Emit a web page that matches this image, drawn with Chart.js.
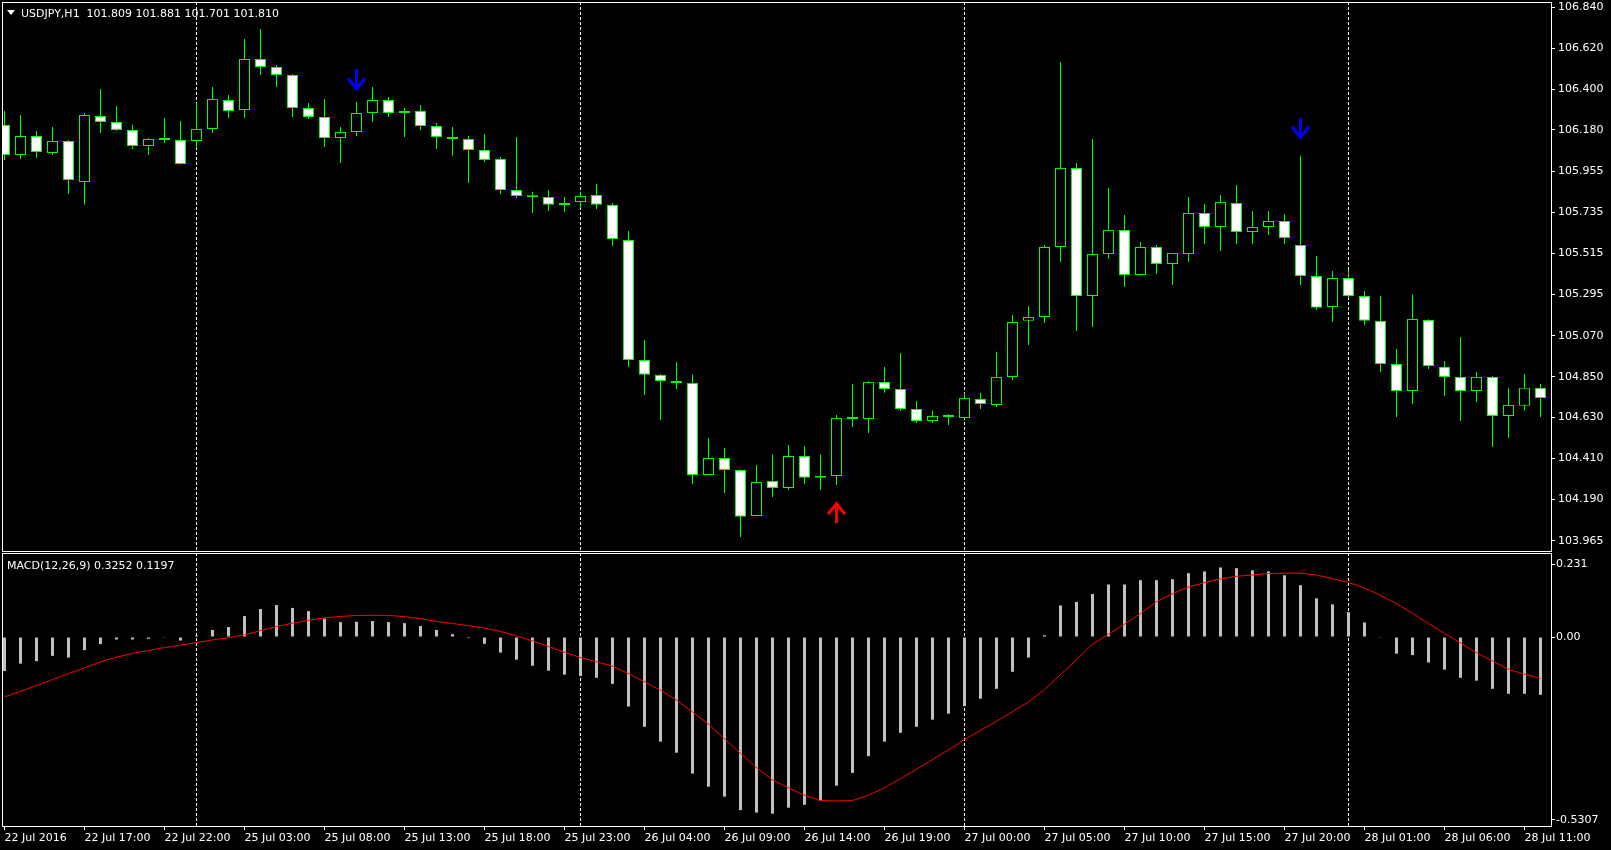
<!DOCTYPE html>
<html>
<head>
<meta charset="utf-8">
<title>USDJPY,H1</title>
<script src="https://cdn.jsdelivr.net/npm/chart.js@4.4.1/dist/chart.umd.min.js"></script>
<style>
  html, body { margin: 0; padding: 0; background: #000; }
  body { width: 1611px; height: 850px; position: relative; overflow: hidden; font-family: "DejaVu Sans", sans-serif; }
  #price-wrap { position: absolute; left: 0; top: 0; width: 1611px; height: 552px; }
  #macd-wrap { position: absolute; left: 0; top: 552px; width: 1611px; height: 298px; }
  .pane-title { position: absolute; color: #fff; font-size: 11px; line-height: 13px; white-space: pre; }
  #price-title { left: 21px; top: 7px; }
  #macd-title { left: 7px; top: 559px; }
  #tri { position: absolute; left: 7px; top: 10px; width: 0; height: 0;
         border-left: 4px solid transparent; border-right: 4px solid transparent; border-top: 5px solid #fff; }
</style>
</head>
<body>
<div id="price-wrap"><canvas id="priceChart" width="1611" height="552"></canvas></div>
<div id="macd-wrap"><canvas id="macdChart" width="1611" height="298"></canvas></div>
<div id="tri"></div>
<div class="pane-title" id="price-title">USDJPY,H1  101.809 101.881 101.701 101.810</div>
<div class="pane-title" id="macd-title">MACD(12,26,9) 0.3252 0.1197</div>

<script>
// H1 bars, 22 Jul 2016 12:00 .. 28 Jul 2016 12:00 (index = bar number)
const opens = [
  106.207, 106.045, 106.147, 106.056, 106.120, 105.899, 106.255, 106.223, 106.180, 106.093,
  106.136, 106.126, 106.120, 106.185, 106.341, 106.287, 106.562, 106.519, 106.476, 106.298,
  106.250, 106.136, 106.169, 106.271, 106.341, 106.282, 106.282, 106.201, 106.142, 106.131,
  106.072, 106.023, 105.856, 105.819, 105.819, 105.776, 105.792, 105.829, 105.776, 105.587,
  104.940, 104.860, 104.827, 104.816, 104.321, 104.412, 104.348, 104.100, 104.288, 104.251,
  104.423, 104.315, 104.315, 104.622, 104.622, 104.822, 104.784, 104.676, 104.612, 104.644,
  104.628, 104.730, 104.698, 104.849, 105.151, 105.172, 105.549, 105.975, 105.285, 105.511,
  105.641, 105.398, 105.549, 105.458, 105.511, 105.732, 105.657, 105.786, 105.630, 105.657,
  105.689, 105.560, 105.393, 105.226, 105.382, 105.285, 105.151, 104.919, 104.773, 105.156,
  104.903, 104.849, 104.773, 104.849, 104.639, 104.693, 104.790
];
const highs = [
  106.282, 106.260, 106.174, 106.196, 106.125, 106.271, 106.400, 106.309, 106.207, 106.136,
  106.244, 106.228, 106.325, 106.411, 106.368, 106.670, 106.724, 106.530, 106.481, 106.325,
  106.347, 106.196, 106.330, 106.411, 106.357, 106.298, 106.314, 106.217, 106.196, 106.147,
  106.158, 106.034, 106.142, 105.846, 105.856, 105.819, 105.846, 105.889, 105.786, 105.635,
  105.048, 104.865, 104.930, 104.860, 104.520, 104.466, 104.352, 104.375, 104.429, 104.482,
  104.477, 104.429, 104.644, 104.811, 104.827, 104.903, 104.978, 104.719, 104.666, 104.649,
  104.763, 104.763, 104.984, 105.183, 105.231, 105.560, 106.546, 106.002, 106.131, 105.867,
  105.722, 105.576, 105.560, 105.517, 105.819, 105.781, 105.829, 105.883, 105.743, 105.743,
  105.727, 106.040, 105.501, 105.420, 105.425, 105.312, 105.285, 105.000, 105.291, 105.160,
  104.935, 105.064, 104.876, 104.854, 104.790, 104.865, 104.811
];
const lows = [
  106.018, 106.023, 106.029, 106.045, 105.835, 105.776, 106.163, 106.174, 106.077, 106.045,
  106.110, 105.994, 106.083, 106.163, 106.244, 106.244, 106.476, 106.411, 106.250, 106.239,
  106.088, 106.002, 106.147, 106.223, 106.250, 106.142, 106.180, 106.077, 106.040, 105.894,
  106.007, 105.835, 105.813, 105.732, 105.743, 105.738, 105.759, 105.754, 105.555, 104.903,
  104.752, 104.617, 104.784, 104.272, 104.318, 104.224, 103.987, 104.097, 104.202, 104.240,
  104.272, 104.240, 104.267, 104.579, 104.547, 104.763, 104.666, 104.601, 104.601, 104.590,
  104.622, 104.676, 104.687, 104.833, 105.021, 105.140, 105.468, 105.097, 105.118, 105.485,
  105.334, 105.395, 105.404, 105.344, 105.468, 105.565, 105.528, 105.565, 105.565, 105.614,
  105.565, 105.344, 105.210, 105.145, 105.274, 105.129, 104.876, 104.633, 104.703, 104.892,
  104.746, 104.612, 104.714, 104.472, 104.520, 104.666, 104.633
];
const closes = [
  106.045, 106.147, 106.061, 106.120, 105.910, 106.260, 106.223, 106.180, 106.093, 106.131,
  106.126, 105.996, 106.185, 106.347, 106.282, 106.562, 106.519, 106.476, 106.298, 106.250,
  106.136, 106.169, 106.271, 106.341, 106.271, 106.271, 106.201, 106.142, 106.131, 106.072,
  106.018, 105.856, 105.824, 105.817, 105.776, 105.775, 105.824, 105.776, 105.592, 104.940,
  104.860, 104.827, 104.816, 104.321, 104.412, 104.348, 104.095, 104.283, 104.251, 104.423,
  104.305, 104.305, 104.628, 104.626, 104.822, 104.784, 104.676, 104.612, 104.639, 104.633,
  104.736, 104.703, 104.849, 105.145, 105.172, 105.549, 105.975, 105.285, 105.511, 105.641,
  105.398, 105.549, 105.458, 105.517, 105.732, 105.657, 105.792, 105.630, 105.657, 105.689,
  105.598, 105.393, 105.221, 105.382, 105.285, 105.151, 104.919, 104.773, 105.161, 104.908,
  104.849, 104.773, 104.849, 104.639, 104.698, 104.790, 104.736
];

// MACD(12,26,9): main (histogram) and signal line
const macdMain = [
  -0.096, -0.075, -0.068, -0.053, -0.058, -0.037, -0.020, -0.007, -0.007, -0.005,
  -0.002, -0.010, 0.004, 0.020, 0.028, 0.059, 0.079, 0.090, 0.082, 0.073,
  0.052, 0.042, 0.043, 0.045, 0.042, 0.039, 0.031, 0.020, 0.008, -0.003,
  -0.019, -0.044, -0.064, -0.081, -0.095, -0.106, -0.110, -0.115, -0.132, -0.196,
  -0.253, -0.295, -0.326, -0.385, -0.422, -0.450, -0.488, -0.495, -0.498, -0.481,
  -0.473, -0.461, -0.419, -0.383, -0.336, -0.295, -0.270, -0.253, -0.233, -0.216,
  -0.195, -0.174, -0.146, -0.098, -0.058, 0.005, 0.089, 0.099, 0.121, 0.148,
  0.148, 0.160, 0.160, 0.163, 0.180, 0.185, 0.196, 0.194, 0.188, 0.185,
  0.174, 0.146, 0.109, 0.092, 0.070, 0.041, -0.002, -0.047, -0.051, -0.072,
  -0.092, -0.115, -0.123, -0.146, -0.160, -0.160, -0.163
];
const macdSignal = [
  -0.169, -0.153, -0.137, -0.120, -0.103, -0.087, -0.070, -0.057, -0.046, -0.038,
  -0.030, -0.023, -0.016, -0.008, -0.002, 0.006, 0.018, 0.029, 0.039, 0.047,
  0.054, 0.058, 0.061, 0.061, 0.061, 0.057, 0.052, 0.044, 0.038, 0.032,
  0.025, 0.016, 0.003, -0.011, -0.027, -0.043, -0.058, -0.070, -0.082, -0.103,
  -0.126, -0.150, -0.178, -0.211, -0.246, -0.287, -0.328, -0.368, -0.403, -0.425,
  -0.446, -0.461, -0.462, -0.461, -0.446, -0.425, -0.399, -0.373, -0.345, -0.318,
  -0.289, -0.263, -0.238, -0.210, -0.183, -0.148, -0.106, -0.064, -0.020, 0.008,
  0.036, 0.066, 0.100, 0.122, 0.141, 0.153, 0.164, 0.171, 0.175, 0.179,
  0.180, 0.180, 0.175, 0.164, 0.154, 0.138, 0.118, 0.094, 0.067, 0.038,
  0.010, -0.017, -0.044, -0.068, -0.091, -0.105, -0.117
];

// signal arrows on the price pane
const sellArrows = [{ x: 22, y: 106.447 }, { x: 81, y: 106.186 }];
const buyArrows = [{ x: 52, y: 104.120 }];

// axes
const priceTicks = [106.840, 106.620, 106.400, 106.180, 105.955, 105.735, 105.515,
                    105.295, 105.070, 104.850, 104.630, 104.410, 104.190, 103.965];
const macdTickValues = [0.231, 0.00, -0.5307];
const macdTickText = ['0.231', '0.00', '-0.5307'];
const timeLabels = ['22 Jul 2016', '22 Jul 17:00', '22 Jul 22:00', '25 Jul 03:00', '25 Jul 08:00',
                    '25 Jul 13:00', '25 Jul 18:00', '25 Jul 23:00', '26 Jul 04:00', '26 Jul 09:00',
                    '26 Jul 14:00', '26 Jul 19:00', '27 Jul 00:00', '27 Jul 05:00', '27 Jul 10:00',
                    '27 Jul 15:00', '27 Jul 20:00', '28 Jul 01:00', '28 Jul 06:00', '28 Jul 11:00'];
const timeTickBars = timeLabels.map((_, k) => k * 5);
const daySeparators = [12, 36, 60, 84];

const X_MIN = -2.5 / 16;
const X_MAX = (opens.length - 1) + 10.5 / 16;

Chart.defaults.font.family = '"DejaVu Sans", sans-serif';
Chart.defaults.font.size = 11;
Chart.defaults.color = '#ffffff';

// dotted period separators, drawn under the bars
const separatorPlugin = {
    id: 'separators',
    beforeDatasetsDraw(chart) {
        const { ctx, chartArea, scales } = chart;
        ctx.save();
        ctx.strokeStyle = '#ffffff';
        ctx.lineWidth = 1;
        ctx.setLineDash([3, 2]);
        daySeparators.forEach(b => {
            const px = Math.round(scales.x.getPixelForValue(b) - 0.5) + 0.5;
            ctx.beginPath();
            ctx.moveTo(px, chartArea.top);
            ctx.lineTo(px, chartArea.bottom);
            ctx.stroke();
        });
        ctx.restore();
    }
};

// white frame round each pane
const framePlugin = {
    id: 'frame',
    afterDraw(chart) {
        const { ctx, chartArea: a } = chart;
        ctx.save();
        ctx.strokeStyle = '#ffffff';
        ctx.lineWidth = 1;
        ctx.strokeRect(a.left + 0.5, a.top + 0.5, a.right - a.left, a.bottom - a.top);
        ctx.restore();
    }
};

function makeArrow(color, down) {
    const c = document.createElement('canvas');
    c.width = 21;
    c.height = 22;
    const g = c.getContext('2d');
    g.strokeStyle = color;
    g.lineWidth = 3;
    g.lineJoin = 'miter';
    if (!down) {
        g.translate(0, 22);
        g.scale(1, -1);
    }
    g.beginPath();
    g.moveTo(10.5, 0);
    g.lineTo(10.5, 20);
    g.stroke();
    g.beginPath();
    g.moveTo(2, 9);
    g.lineTo(10.5, 19.5);
    g.lineTo(19, 9);
    g.stroke();
    return c;
}

const sharedX = {
    type: 'linear',
    min: X_MIN,
    max: X_MAX,
    offset: false
};

// Price pane
const bodies = opens.map((o, i) => ({ x: i, y: [o, closes[i]] }));
const wicks = lows.map((l, i) => ({ x: i, y: [l, highs[i]] }));

new Chart(document.getElementById('priceChart'), {
    type: 'bar',
    data: {
        datasets: [
            {
                data: wicks,
                grouped: false,
                barThickness: 1,
                backgroundColor: '#00ff00',
                borderWidth: 0,
                inflateAmount: 0,
                order: 3
            },
            {
                data: bodies,
                grouped: false,
                barThickness: 11,
                minBarLength: 2,
                backgroundColor: ctx => closes[ctx.dataIndex] < opens[ctx.dataIndex] ? '#ffffff' : '#000000',
                borderColor: '#00ff00',
                borderWidth: 1,
                borderSkipped: false,
                inflateAmount: 0,
                order: 2
            },
            {
                type: 'line',
                data: sellArrows,
                showLine: false,
                pointStyle: makeArrow('#0000ff', true),
                pointRadius: 10,
                order: 1
            },
            {
                type: 'line',
                data: buyArrows,
                showLine: false,
                pointStyle: makeArrow('#ff0000', false),
                pointRadius: 10,
                order: 1
            }
        ]
    },
    options: {
        responsive: false,
        animation: false,
        events: [],
        layout: { autoPadding: false, padding: { left: 2, right: 0, top: 2, bottom: 1 } },
        plugins: { legend: { display: false }, tooltip: { enabled: false } },
        scales: {
            x: Object.assign({}, sharedX, { display: false }),
            y: {
                type: 'linear',
                position: 'right',
                min: 103.911,
                max: 106.869,
                afterBuildTicks: s => { s.ticks = priceTicks.map(v => ({ value: v })); },
                afterFit: s => { s.width = 60; s.paddingTop = 0; s.paddingBottom = 0; },
                ticks: { callback: v => v.toFixed(3), padding: 3, autoSkip: false, color: '#ffffff' },
                grid: { drawOnChartArea: false, drawTicks: true, tickLength: 4, color: '#ffffff' },
                border: { display: false }
            }
        }
    },
    plugins: [separatorPlugin, framePlugin]
});

// MACD pane
new Chart(document.getElementById('macdChart'), {
    type: 'bar',
    data: {
        datasets: [
            {
                type: 'line',
                data: macdSignal.map((v, i) => ({ x: i, y: v })),
                borderColor: '#ff0000',
                borderWidth: 1,
                pointRadius: 0,
                tension: 0,
                order: 1
            },
            {
                data: macdMain.map((v, i) => ({ x: i, y: v })),
                grouped: false,
                barThickness: 3,
                backgroundColor: '#c0c0c0',
                borderWidth: 0,
                inflateAmount: 0,
                order: 2
            }
        ]
    },
    options: {
        responsive: false,
        animation: false,
        events: [],
        layout: { autoPadding: false, padding: { left: 2, right: 0, top: 1, bottom: 0 } },
        plugins: { legend: { display: false }, tooltip: { enabled: false } },
        scales: {
            x: Object.assign({}, sharedX, {
                position: 'bottom',
                afterBuildTicks: s => { s.ticks = timeTickBars.map(v => ({ value: v })); },
                afterFit: s => { s.height = 24; s.paddingLeft = 0; s.paddingRight = 0; },
                ticks: {
                    callback: (v, i) => timeLabels[i],
                    align: 'start',
                    maxRotation: 0,
                    minRotation: 0,
                    autoSkip: false,
                    padding: 2,
                    color: '#ffffff'
                },
                grid: { drawOnChartArea: false, drawTicks: true, tickLength: 4, color: '#ffffff', offset: false },
                border: { display: false }
            }),
            y: {
                type: 'linear',
                position: 'right',
                min: -0.5327,
                max: 0.2368,
                // the edge labels sit just inside the pane, as the terminal draws them
                afterBuildTicks: s => {
                    s.ticks = macdTickValues.map(v => ({ value: Math.min(Math.max(v, s.min + 0.017), s.max - 0.032) }));
                },
                afterFit: s => { s.width = 60; s.paddingTop = 0; s.paddingBottom = 0; },
                ticks: { callback: (v, i) => macdTickText[i], padding: 1, autoSkip: false, color: '#ffffff' },
                grid: { drawOnChartArea: false, drawTicks: true, tickLength: 4, color: '#ffffff' },
                border: { display: false }
            }
        }
    },
    plugins: [separatorPlugin, framePlugin]
});
</script>
</body>
</html>
